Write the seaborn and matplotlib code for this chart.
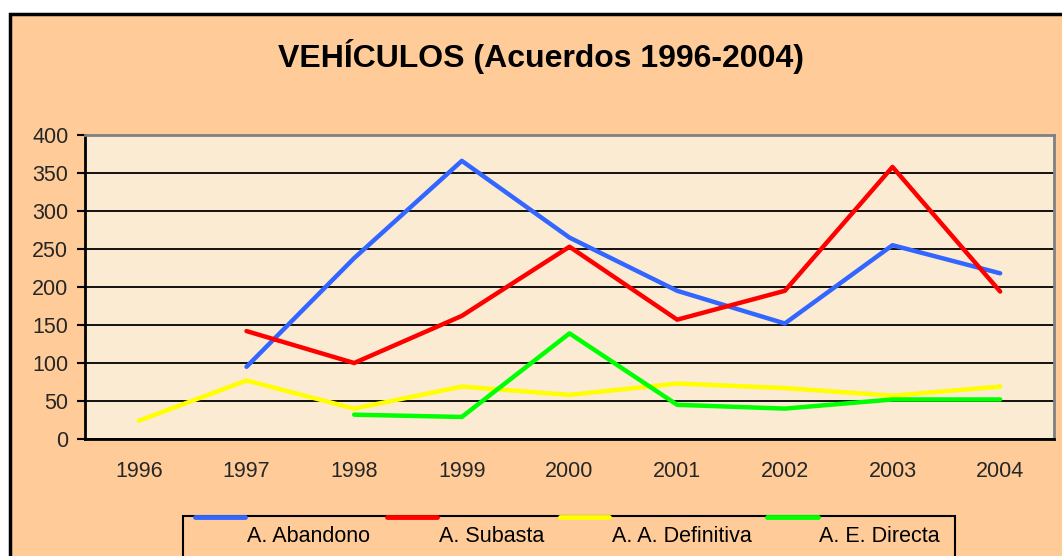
import numpy as np
import pandas as pd
import matplotlib
matplotlib.use("Agg")
import matplotlib.pyplot as plt
from matplotlib.patches import Rectangle
from matplotlib.lines import Line2D
import seaborn as sns

years = ["1996", "1997", "1998", "1999", "2000", "2001", "2002", "2003", "2004"]
abandono = [np.nan, 95, 238, 366, 265, 195, 152, 255, 218]
subasta = [np.nan, 142, 100, 162, 253, 157, 195, 358, 194]
definitiva = [24, 77, 40, 69, 58, 73, 67, 57, 69]
directa = [np.nan, np.nan, 32, 29, 139, 45, 40, 52, 52]
series_names = ["A. Abandono", "A. Subasta", "A. A. Definitiva", "A. E. Directa"]
colors = ["#3366FF", "#FF0000", "#FFFF00", "#00FF00"]

sns.set_theme(style="white")
plt.rcParams["font.family"] = ["Liberation Sans", "DejaVu Sans"]

rows = []
for name, vals in zip(series_names, [abandono, subasta, definitiva, directa]):
    for i, v in enumerate(vals):
        rows.append({"pos": i, "year": years[i], "value": v, "serie": name})
df = pd.DataFrame(rows).dropna()

W, H = 1062, 556
fig = plt.figure(figsize=(W / 100, H / 100), dpi=100, facecolor="white")

# chart area background with border
fig.add_artist(Rectangle((10 / W, -0.05), 1.1, 1 - 14 / H + 0.05, transform=fig.transFigure,
                         facecolor="#FFCC99", edgecolor="black", linewidth=2.5, zorder=0))

ax = fig.add_axes([85 / W, 1 - 439 / H, (1054 - 85) / W, (439 - 135) / H])
ax.set_facecolor("#FBEBD3")

sns.lineplot(data=df, x="pos", y="value", hue="serie", palette=colors,
             hue_order=series_names, linewidth=3.2, ax=ax, legend=False, sort=False)

ax.set_xlim(-0.5, 8.5)
ax.set_ylim(0, 400)
ax.set_yticks(np.arange(0, 401, 50))
ax.set_xticks(range(len(years)))
ax.set_xticklabels(years)
ax.set_xticks(np.arange(-0.5, 9, 1), minor=True)
ax.tick_params(axis="x", which="major", length=0, pad=16, labelsize=15.5)
ax.tick_params(axis="x", which="minor", length=6, width=1.5, color="black", direction="out")
ax.tick_params(axis="y", which="major", length=6, width=1.5, color="black", direction="out",
               labelsize=15.5, pad=6)
ax.tick_params(left=True, bottom=True)
ax.set_xlabel("")
ax.set_ylabel("")
ax.yaxis.grid(True, color="black", linewidth=1.3)
ax.set_axisbelow(True)
for s in ["left", "bottom"]:
    ax.spines[s].set_color("black")
    ax.spines[s].set_linewidth(2)
for s in ["top", "right"]:
    ax.spines[s].set_color("#808080")
    ax.spines[s].set_linewidth(2)

fig.text(541 / W, 1 - 56 / H, "VEHÍCULOS (Acuerdos 1996-2004)", ha="center", va="center",
         fontsize=23, fontweight="bold", color="black")

# legend box (Excel-style)
fig.add_artist(Rectangle((183 / W, -0.05), (955 - 183) / W, 1 - 516 / H + 0.05,
                         transform=fig.transFigure, facecolor="#FFCC99", edgecolor="black",
                         linewidth=1.5, zorder=3))
line_x = [(195, 245), (387, 437), (560, 609), (767, 818)]
text_x = [247, 439, 612, 819]
for (x0, x1), tx, c, name in zip(line_x, text_x, colors, series_names):
    fig.add_artist(Line2D([x0 / W, x1 / W], [1 - 517 / H, 1 - 517 / H], transform=fig.transFigure,
                          color=c, linewidth=3.5, solid_capstyle="round", zorder=4))
    fig.text(tx / W, 1 - 536 / H, name, ha="left", va="center", fontsize=15.5, color="black", zorder=5)

fig.savefig("out.png", dpi=100, facecolor="white")
